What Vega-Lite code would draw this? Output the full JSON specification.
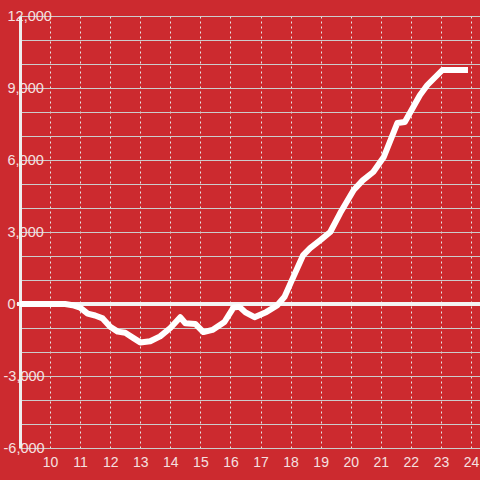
{
  "$schema": "https://vega.github.io/schema/vega-lite/v6.json",
  "width": 460,
  "height": 432,
  "autosize": {"type": "none"},
  "padding": {"left": 20, "top": 16, "right": 0, "bottom": 32},
  "background": "#cc2a2f",
  "config": {
    "view": {"stroke": null},
    "font": "Liberation Sans"
  },
  "data": {
    "values": [
      {"t": 9, "v": 0},
      {"t": 10, "v": 0},
      {"t": 10.5, "v": 0},
      {"t": 10.75, "v": -50},
      {"t": 11.0, "v": -150},
      {"t": 11.25, "v": -400},
      {"t": 11.5, "v": -480},
      {"t": 11.75, "v": -600},
      {"t": 12.0, "v": -950},
      {"t": 12.25, "v": -1150},
      {"t": 12.5, "v": -1200},
      {"t": 12.75, "v": -1400},
      {"t": 13.0, "v": -1600},
      {"t": 13.33, "v": -1550},
      {"t": 13.66, "v": -1350},
      {"t": 14.0, "v": -1000},
      {"t": 14.33, "v": -550},
      {"t": 14.5, "v": -800},
      {"t": 14.83, "v": -830},
      {"t": 15.1, "v": -1170},
      {"t": 15.4, "v": -1080},
      {"t": 15.8, "v": -750},
      {"t": 16.1, "v": -150},
      {"t": 16.3, "v": -120},
      {"t": 16.5, "v": -350},
      {"t": 16.8, "v": -550},
      {"t": 17.2, "v": -330},
      {"t": 17.55, "v": -60},
      {"t": 17.8, "v": 300},
      {"t": 18.0, "v": 870},
      {"t": 18.42, "v": 2040},
      {"t": 18.65, "v": 2330},
      {"t": 19.0, "v": 2670},
      {"t": 19.32, "v": 3000},
      {"t": 19.65, "v": 3790},
      {"t": 20.1, "v": 4750},
      {"t": 20.4, "v": 5150},
      {"t": 20.75, "v": 5500},
      {"t": 21.1, "v": 6125},
      {"t": 21.55, "v": 7540},
      {"t": 21.8, "v": 7580},
      {"t": 22.3, "v": 8700},
      {"t": 22.55, "v": 9125},
      {"t": 23.05, "v": 9750},
      {"t": 23.9, "v": 9750}
    ]
  },
  "layer": [
    {
      "mark": {"type": "rule", "color": "#f4f4f4", "strokeWidth": 3},
      "encoding": {
        "y": {"datum": 0, "type": "quantitative"},
        "x": {"datum": 8.9, "type": "quantitative"},
        "x2": {"datum": 24.3}
      }
    },
    {
      "mark": {"type": "line", "color": "#ffffff", "strokeWidth": 6, "strokeJoin": "round", "strokeCap": "butt"},
      "encoding": {
        "x": {
          "field": "t", "type": "quantitative",
          "scale": {"domain": [9, 24.3], "nice": false, "zero": false},
          "axis": {
            "title": null,
            "values": [10, 11, 12, 13, 14, 15, 16, 17, 18, 19, 20, 21, 22, 23, 24],
            "format": "d",
            "tickCount": 40,
            "domain": false,
            "ticks": false,
            "tickSize": 0,
            "grid": true,
            "gridColor": "#e6e6e6",
            "gridDash": [2, 3],
            "gridWidth": 1,
            "labelColor": "#f5e0e0",
            "labelFontSize": 14,
            "labelPadding": 7,
            "labelFlush": false
          }
        },
        "y": {
          "field": "v", "type": "quantitative",
          "scale": {"domain": [-6000, 12000], "nice": false},
          "axis": {
            "title": null,
            "values": [-6000, -5000, -4000, -3000, -2000, -1000, 0, 1000, 2000, 3000, 4000, 5000, 6000, 7000, 8000, 9000, 10000, 11000, 12000],
            "tickCount": 40,
            "labelExpr": "datum.value % 3000 == 0 ? replace(format(datum.value, ','), '\u2212', '-') : ''",
            "domain": true,
            "domainColor": "#eeeeee",
            "domainWidth": 3,
            "ticks": false,
            "tickSize": 0,
            "grid": true,
            "gridColor": "#cccccc",
            "gridWidth": 1,
            "labelColor": "#f5e0e0",
            "labelFontSize": 14.5,
            "labelAlign": "left",
            "labelBaseline": "middle",
            "labelPadding": {"condition": {"test": "datum.value < 0", "value": 17}, "value": 13},
            "labelFlush": false,
            "labelOverlap": false
          }
        }
      }
    }
  ]
}
